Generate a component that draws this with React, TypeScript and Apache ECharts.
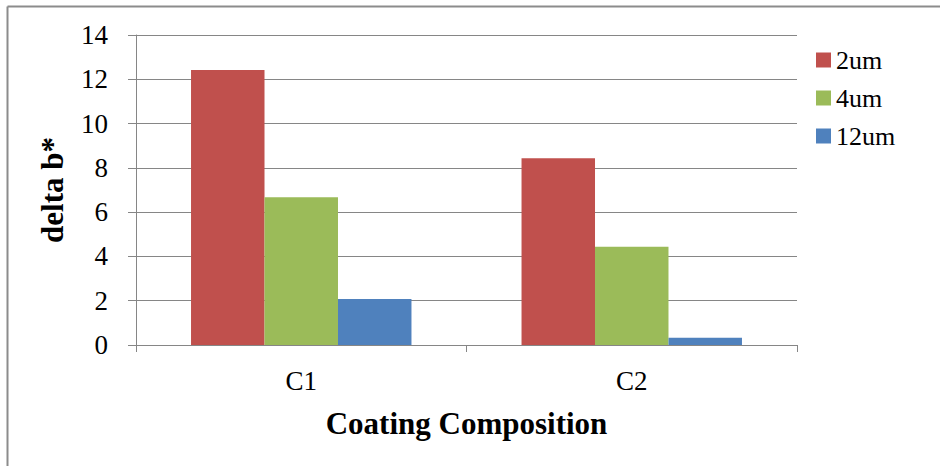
import React, { useEffect, useRef } from "react";
import * as echarts from "echarts";

const categories = ["C1", "C2"];
const seriesNames = ["2um", "4um", "12um"];
const values2um = [12.42, 8.43];
const values4um = [6.67, 4.44];
const values12um = [2.08, 0.33];
const yTicks = { min: 0, max: 14, interval: 2 };

const colors = ["#C0504D", "#9BBB59", "#4F81BD"];
const FONT = "Liberation Serif";
const GREY = "#868686";

export default function App() {
  const ref = useRef<HTMLDivElement>(null);

  useEffect(() => {
    if (!ref.current) return;
    const chart = echarts.init(ref.current, undefined, { renderer: "svg" });
    const data = [values2um, values4um, values12um];
    chart.setOption({
      animation: false,
      backgroundColor: "#ffffff",
      color: colors,
      textStyle: { fontFamily: FONT },
      graphic: [
        {
          type: "line",
          shape: { x1: 7.5, y1: 6.5, x2: 940, y2: 6.5 },
          style: { stroke: "#8c8c8c", lineWidth: 2 },
        },
        {
          type: "line",
          shape: { x1: 7.5, y1: 6.5, x2: 7.5, y2: 466 },
          style: { stroke: "#8c8c8c", lineWidth: 2 },
        },
      ],
      grid: { left: 136, top: 35, right: 143, bottom: 121 },
      legend: {
        orient: "vertical",
        left: 811,
        top: 42,
        itemWidth: 15,
        itemHeight: 15,
        itemGap: 12,
        icon: "rect",
        textStyle: { fontFamily: FONT, fontSize: 26, color: "#000" },
        data: seriesNames,
      },
      xAxis: {
        type: "category",
        data: categories,
        name: "Coating Composition",
        nameLocation: "middle",
        nameGap: 63,
        nameTextStyle: { fontFamily: FONT, fontSize: 31, fontWeight: "bold", color: "#000" },
        axisLine: { lineStyle: { color: GREY, width: 1 } },
        axisTick: { show: true, length: 7, lineStyle: { color: GREY } },
        axisLabel: { fontFamily: FONT, fontSize: 27, color: "#000", margin: 22 },
      },
      yAxis: {
        type: "value",
        min: yTicks.min,
        max: yTicks.max,
        interval: yTicks.interval,
        name: "delta b*",
        nameLocation: "middle",
        nameGap: 68,
        nameTextStyle: { fontFamily: FONT, fontSize: 31, fontWeight: "bold", color: "#000" },
        axisLine: { show: true, lineStyle: { color: GREY, width: 1 } },
        axisTick: { show: true, length: 8, lineStyle: { color: GREY } },
        axisLabel: { fontFamily: FONT, fontSize: 27, color: "#000", margin: 28 },
        splitLine: { show: true, lineStyle: { color: GREY, width: 1 } },
      },
      series: seriesNames.map((name, i) => ({
        name,
        type: "bar",
        data: data[i],
        barGap: "0%",
        barCategoryGap: "33.3%",
      })),
    });
    return () => chart.dispose();
  }, []);

  return (
    <div
      ref={ref}
      style={{ position: "fixed", left: 0, top: 0, width: 940, height: 466 }}
    />
  );
}
